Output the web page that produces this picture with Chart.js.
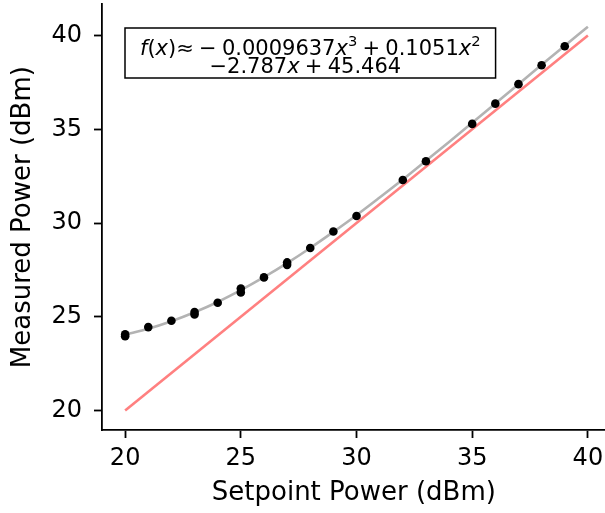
<!DOCTYPE html>
<html>
<head>
<meta charset="utf-8">
<script src="https://cdn.jsdelivr.net/npm/chart.js@4.4.0/dist/chart.umd.min.js"></script>
<style>
  html, body { margin: 0; padding: 0; background: #fff; overflow: hidden; }
</style>
</head>
<body>
<canvas id="powerChart" width="610" height="513"></canvas>
<script>
// measured points (some setpoints were measured twice)
const setpoints = [20, 20, 21, 22, 23, 23, 24, 25, 25, 26, 27, 27, 28, 29, 30, 32, 33, 35, 36, 37, 38, 39];
const measured = [24.06, 23.96, 24.45, 24.79, 25.25, 25.12, 25.75, 26.51, 26.30, 27.10, 27.90, 27.77, 28.67, 29.55, 30.38, 32.30, 33.30, 35.29, 36.37, 37.41, 38.42, 39.43];

// cubic fit curve, read at each dBm
const fitX = [20, 21, 22, 23, 24, 25, 26, 27, 28, 29, 30, 31, 32, 33, 34, 35, 36, 37, 38, 39, 40];
const fitY = [24.05, 24.36, 24.76, 25.24, 25.79, 26.42, 27.11, 27.86, 28.67, 29.53, 30.42, 31.36, 32.32, 33.32, 34.33, 35.35, 36.38, 37.41, 38.44, 39.46, 40.47];

// ideal line (measured = setpoint)
const idealX = [20, 40];
const idealY = [20, 40];

const xTicks = [20, 25, 30, 35, 40];
const yTicks = [20, 25, 30, 35, 40];

const fitLabel = [
    [{t: 'f', s: 'i'}, {t: '(', s: 'n'}, {t: 'x', s: 'i'}, {t: ')≈', s: 'n'}, {gap: 0.25}, {t: '−', s: 'n'}, {gap: 0.25},
     {t: '0.0009637', s: 'n'}, {t: 'x', s: 'i'}, {t: '3', s: 'sup'}, {gap: 0.25}, {t: '+', s: 'n'}, {gap: 0.25},
     {t: '0.1051', s: 'n'}, {t: 'x', s: 'i'}, {t: '2', s: 'sup'}],
    [{t: '−2.787', s: 'n'}, {t: 'x', s: 'i'}, {gap: 0.25}, {t: '+', s: 'n'}, {gap: 0.25}, {t: '45.464', s: 'n'}]
];

const toPoints = (xs, ys) => xs.map((x, i) => ({x: x, y: ys[i]}));

// axis sizes are fixed, and no extra room for the end labels
const fixSize = (w, h) => s => {
    if (w) s.width = w;
    if (h) s.height = h;
    s.paddingTop = 0;
    s.paddingBottom = 0;
    s.paddingLeft = 0;
    s.paddingRight = 0;
};

Chart.defaults.font.family = "'DejaVu Sans', sans-serif";
Chart.defaults.color = '#000';

const fitBox = {
    id: 'fitBox',
    afterDatasetsDraw(chart) {
        const c = chart.ctx;
        const size = 21;
        const fontFor = s => s === 'i' ? `italic ${size}px 'DejaVu Sans'`
            : s === 'sup' ? `${size * 0.7}px 'DejaVu Sans'` : `${size}px 'DejaVu Sans'`;
        const widthOf = line => line.reduce((w, seg) => {
            if (seg.gap) return w + seg.gap * size;
            c.font = fontFor(seg.s);
            return w + c.measureText(seg.t).width;
        }, 0);

        const widths = fitLabel.map(widthOf);
        const boxW = Math.max(...widths) + 30;
        const left = chart.chartArea.left + 23;
        const top = 28;
        const boxH = 50;
        const cx = left + boxW / 2;
        const baselines = [top + 27, top + 44.5];

        c.save();
        c.fillStyle = '#fff';
        c.fillRect(left, top, boxW, boxH);
        c.strokeStyle = '#000';
        c.lineWidth = 1.5;
        c.strokeRect(left, top, boxW, boxH);
        c.fillStyle = '#000';
        c.textBaseline = 'alphabetic';
        c.textAlign = 'left';
        fitLabel.forEach((line, li) => {
            let x = cx - widths[li] / 2 - (li ? 5 : 0);
            line.forEach(seg => {
                if (seg.gap) { x += seg.gap * size; return; }
                c.font = fontFor(seg.s);
                const y = seg.s === 'sup' ? baselines[li] - size * 0.42 : baselines[li];
                c.fillText(seg.t, x, y);
                x += c.measureText(seg.t).width;
            });
        });
        c.restore();
    }
};

const ctx = document.getElementById('powerChart').getContext('2d');

new Chart(ctx, {
    type: 'scatter',
    data: {
        datasets: [
            {
                label: 'Measured',
                data: toPoints(setpoints, measured),
                pointRadius: 4.3,
                pointBackgroundColor: '#000',
                pointBorderWidth: 0,
                showLine: false
            },
            {
                label: 'Fit',
                data: toPoints(fitX, fitY),
                showLine: true,
                borderColor: '#b3b3b3',
                borderWidth: 2.6,
                pointRadius: 0,
                cubicInterpolationMode: 'monotone'
            },
            {
                label: 'Ideal',
                data: toPoints(idealX, idealY),
                showLine: true,
                borderColor: '#ff8080',
                borderWidth: 2.6,
                pointRadius: 0
            }
        ]
    },
    options: {
        responsive: false,
        animation: false,
        layout: { padding: 0 },
        plugins: {
            legend: { display: false },
            tooltip: { enabled: false }
        },
        scales: {
            x: {
                type: 'linear',
                min: 19,
                max: 40.77,
                afterBuildTicks: s => { s.ticks = xTicks.map(v => ({value: v})); },
                afterFit: fixSize(0, 83),
                grid: { drawOnChartArea: false, tickLength: 8, tickColor: '#000', tickWidth: 1.8 },
                border: { color: '#000', width: 1.8 },
                ticks: { font: { size: 24 }, padding: 6, color: '#000', maxRotation: 0 },
                title: { display: true, text: 'Setpoint Power (dBm)', font: { size: 26 }, padding: { top: 0, bottom: 4 }, color: '#000' }
            },
            y: {
                type: 'linear',
                min: 18.96,
                max: 41.67,
                afterBuildTicks: s => { s.ticks = yTicks.map(v => ({value: v})); },
                afterFit: fixSize(102, 0),
                grid: { drawOnChartArea: false, tickLength: 8, tickColor: '#000', tickWidth: 1.8 },
                border: { color: '#000', width: 1.8 },
                ticks: { font: { size: 24 }, padding: 12, color: '#000' },
                title: { display: true, text: 'Measured Power (dBm)', font: { size: 26 }, padding: { top: 8, bottom: 0 }, color: '#000' }
            }
        }
    },
    plugins: [fitBox]
});
</script>
</body>
</html>
